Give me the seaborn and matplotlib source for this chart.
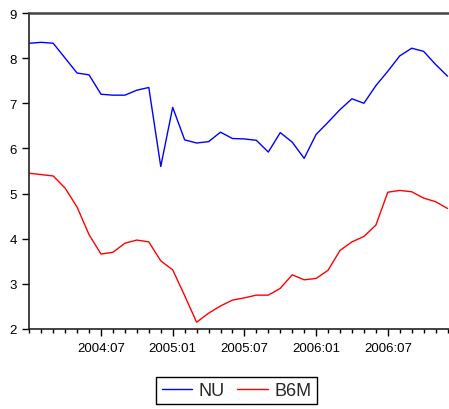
import numpy as np
import pandas as pd
import matplotlib
matplotlib.use("Agg")
import matplotlib.pyplot as plt
from matplotlib.ticker import MultipleLocator
from matplotlib.lines import Line2D
import seaborn as sns

# Monthly observations, 2004:01 - 2006:12
months = pd.period_range("2004-01", "2006-12", freq="M")

nu = [8.33, 8.35, 8.33, 8.00, 7.67, 7.63, 7.20, 7.18, 7.18, 7.29, 7.35, 5.60,
      6.91, 6.19, 6.12, 6.15, 6.36, 6.22, 6.21, 6.18, 5.92, 6.35, 6.14, 5.78,
      6.31, 6.58, 6.86, 7.10, 7.00, 7.39, 7.71, 8.05, 8.22, 8.15, 7.86, 7.60]

b6m = [5.45, 5.42, 5.39, 5.12, 4.70, 4.09, 3.66, 3.70, 3.90, 3.97, 3.93, 3.51,
       3.31, 2.74, 2.15, 2.35, 2.51, 2.64, 2.69, 2.75, 2.75, 2.90, 3.20, 3.09,
       3.12, 3.30, 3.74, 3.93, 4.05, 4.30, 5.03, 5.07, 5.04, 4.90, 4.82, 4.67]

series_names = ["NU", "B6M"]
series_colors = ["#0000ff", "#ff0000"]
tick_labels = ["2004:07", "2005:01", "2005:07", "2006:01", "2006:07"]
y_ticks = [2, 3, 4, 5, 6, 7, 8, 9]

t = np.arange(len(months))
df = pd.DataFrame({
    "t": np.concatenate([t, t]),
    "value": nu + b6m,
    "series": ["NU"] * len(t) + ["B6M"] * len(t),
})

sns.set_style("ticks")
plt.rcParams["font.family"] = ["Liberation Sans", "DejaVu Sans"]

fig = plt.figure(figsize=(4.49, 4.10), dpi=100)
ax = fig.add_axes([29.3 / 449, 1 - 330 / 410, 1 - 29.3 / 449, (330 - 14) / 410])

sns.lineplot(data=df, x="t", y="value", hue="series", hue_order=series_names,
             palette=series_colors, linewidth=1.0, ax=ax, legend=False)

ax.set_xlim(0, (449 - 29.3) / 11.95)
ax.set_ylim(2, 9)
ax.set_yticks(y_ticks)
ax.set_yticklabels([str(v) for v in y_ticks])

label_pos = [months.get_loc(pd.Period(l.replace(":", "-"), freq="M")) for l in tick_labels]
ax.set_xticks(label_pos)
ax.set_xticklabels(tick_labels)
ax.xaxis.set_minor_locator(MultipleLocator(1))

ax.set_xlabel("")
ax.set_ylabel("")
ax.tick_params(axis="both", which="major", labelsize=9.5, colors="black",
               direction="out", width=1.0)
ax.tick_params(axis="x", which="major", length=5, pad=4)
ax.tick_params(axis="x", which="minor", length=3, width=1.0, color="black")
ax.tick_params(axis="y", which="major", length=5, pad=4)

for side in ["left", "bottom"]:
    ax.spines[side].set_color("#222222")
    ax.spines[side].set_linewidth(1.2)
ax.spines["top"].set_visible(True)
ax.spines["top"].set_color("#444444")
ax.spines["top"].set_linewidth(1.8)
ax.spines["right"].set_visible(False)

handles = [Line2D([], [], color=c, linewidth=1.0) for c in series_colors]
leg = fig.legend(handles, series_names, loc="center",
                 bbox_to_anchor=(236.5 / 449, 1 - 391.5 / 410), ncol=2,
                 fontsize=13, frameon=True, fancybox=False, framealpha=1,
                 edgecolor="black", handlelength=1.7, handletextpad=0.35,
                 columnspacing=0.7, borderpad=0.3, borderaxespad=0)
leg.get_frame().set_linewidth(1.0)

fig.savefig("out.png", dpi=100)
